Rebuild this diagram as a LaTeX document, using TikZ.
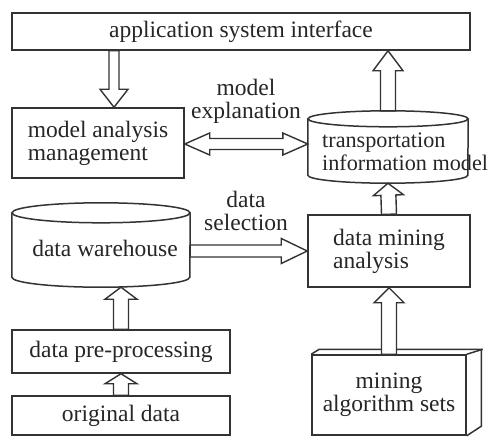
\documentclass[tikz,border=0pt]{standalone}
\usepackage{fontspec}
\setmainfont{Liberation Serif}
\usetikzlibrary{calc}
\definecolor{lc}{HTML}{333333}
\definecolor{tc}{HTML}{262626}
\begin{document}
\begin{tikzpicture}[x=1pt,y=-1pt,
  txt/.style={text=tc, font=\fontsize{23.5}{23}\selectfont, inner sep=0pt, align=center},
  box/.style={txt, draw=lc, line width=1.5pt, fill=white},
  ghost/.style={draw=none, inner sep=0pt},
  cyl/.style={draw=lc, line width=1.5pt},
  barrow/.style n args={3}{draw=lc, line width=1.4pt, fill=white, line join=miter,
    to path={
      ($(\tikztostart)!#1!90:(\tikztotarget)$)
      -- ($(\tikztotarget)!#3!(\tikztostart)!#1!90:(\tikztotarget)$)
      -- ($(\tikztotarget)!#3!(\tikztostart)!#2!90:(\tikztotarget)$)
      -- (\tikztotarget)
      -- ($(\tikztotarget)!#3!(\tikztostart)!#2!-90:(\tikztotarget)$)
      -- ($(\tikztotarget)!#3!(\tikztostart)!#1!-90:(\tikztotarget)$)
      -- ($(\tikztostart)!#1!-90:(\tikztotarget)$)
      -- cycle}},
  dbarrow/.style n args={3}{draw=lc, line width=1.4pt, fill=white, line join=miter,
    to path={
      (\tikztostart)
      -- ($(\tikztostart)!#3!(\tikztotarget)!#2!90:(\tikztotarget)$)
      -- ($(\tikztostart)!#3!(\tikztotarget)!#1!90:(\tikztotarget)$)
      -- ($(\tikztotarget)!#3!(\tikztostart)!#1!90:(\tikztotarget)$)
      -- ($(\tikztotarget)!#3!(\tikztostart)!#2!90:(\tikztotarget)$)
      -- (\tikztotarget)
      -- ($(\tikztotarget)!#3!(\tikztostart)!#2!-90:(\tikztotarget)$)
      -- ($(\tikztotarget)!#3!(\tikztostart)!#1!-90:(\tikztotarget)$)
      -- ($(\tikztostart)!#3!(\tikztotarget)!#1!-90:(\tikztotarget)$)
      -- ($(\tikztostart)!#3!(\tikztotarget)!#2!-90:(\tikztotarget)$)
      -- cycle}}
]
\useasboundingbox[fill=white] (0,0) rectangle (492,436);

% boxes
\node[box, minimum width=458pt, minimum height=37pt] (top) at (241,31.5) {application system interface};
\node[box, minimum width=172pt, minimum height=70pt, align=left] (mam) at (98,143) {model analysis\\management};
\node[box, minimum width=162pt, minimum height=72pt, align=left] (dma) at (389,251) {data mining\\analysis};
\node[box, minimum width=218pt, minimum height=43pt] (dpp) at (121,351.5) {data pre-processing};
\node[box, minimum width=218pt, minimum height=39pt] (od) at (121,415.5) {original data};

% cylinders
\node[ghost, minimum width=178pt, minimum height=84pt] (dw) at (101,245) {};
\draw[cyl] ([yshift=-10pt]dw.north) ellipse [x radius=89pt, y radius=10pt];
\draw[cyl] ([yshift=-10pt]dw.north west) -- ([yshift=10pt]dw.south west)
  arc[start angle=180, end angle=360, x radius=89pt, y radius=10pt]
  -- ([yshift=-10pt]dw.north east);
\node[txt] (dwt) at (105,248) {data warehouse};

\node[ghost, minimum width=160pt, minimum height=72pt] (tim) at (388,147) {};
\draw[cyl] ([yshift=-8pt]tim.north) ellipse [x radius=80pt, y radius=8pt];
\draw[cyl] ([yshift=-8pt]tim.north west) -- ([yshift=8pt]tim.south west)
  arc[start angle=180, end angle=360, x radius=80pt, y radius=8pt]
  -- ([yshift=-8pt]tim.north east);
\node[txt, font=\fontsize{22.2}{23}\selectfont, align=left, anchor=west] (timt) at (322,152) {transportation\\information model};

% 3D box
\node[box, minimum width=154pt, minimum height=80pt] (mas) at (389,395) {mining\\algorithm sets};
\draw[cyl, line join=miter] (mas.north west) -- ++(8,-5) -- ++(162,0) -- ++(0,77) -- (mas.south east);
\draw[cyl] (mas.north east) -- ++(16,-5);

% labels
\node[txt] (lme) at (246,101) {model\\explanation};
\node[txt] (lds) at (246,211) {data\\selection};

% arrow end coordinates
\coordinate (a1s) at ([xshift=16pt]top.south -| mam.north);
\coordinate (a1t) at ([xshift=16pt]mam.north);
\coordinate (a2t) at (tim.north |- top.south);
\coordinate (a3s) at (mam.east |- 0,144);
\coordinate (a3t) at (tim.west |- 0,144);
\coordinate (a4s) at (dw.east |- dma.west);
\coordinate (a7t) at (dpp.north |- dw.south);

% arrows
\path[barrow={5pt}{14pt}{18pt}] (a1s) to (a1t);
\path[barrow={7.5pt}{15pt}{20pt}] (tim.north) to (a2t);
\path[dbarrow={5.5pt}{11pt}{25pt}] (a3s) to (a3t);
\path[barrow={6pt}{12.5pt}{26pt}] (a4s) to (dma.west);
\path[barrow={7.5pt}{15pt}{12pt}] (dma.north) to (tim.south);
\path[barrow={7.5pt}{15pt}{15pt}] (mas.north) to (dma.south);
\path[barrow={7.5pt}{16pt}{12pt}] (dpp.north) to (a7t);
\path[barrow={7.5pt}{16pt}{10pt}] (od.north) to (dpp.south);
\end{tikzpicture}
\end{document}
